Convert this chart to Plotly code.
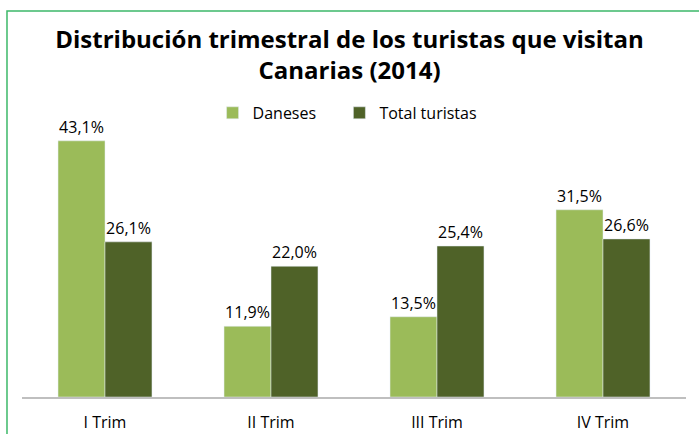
import plotly.graph_objects as go

categories = ["I Trim", "II Trim", "III Trim", "IV Trim"]
daneses = [43.1, 11.9, 13.5, 31.5]
total_turistas = [26.1, 22.0, 25.4, 26.6]

def fmt(v):
    return f"{v:.1f}".replace(".", ",") + "%"

fig = go.Figure()
fig.add_trace(go.Bar(
    name="Daneses", x=categories, y=daneses,
    marker=dict(color="#9BBB59"), legend="legend",
    text=[fmt(v) for v in daneses], textposition="outside",
    textfont=dict(size=16, color="#000000"), cliponaxis=False,
))
fig.add_trace(go.Bar(
    name="Total turistas", x=categories, y=total_turistas,
    marker=dict(color="#4F6228"), legend="legend2",
    text=[fmt(v) for v in total_turistas], textposition="outside",
    textfont=dict(size=16, color="#000000"), cliponaxis=False,
))

leg_common = dict(orientation="h", xanchor="left", y=0.843, yanchor="middle",
                  font=dict(size=16), bgcolor="rgba(0,0,0,0)")

# plot area: x 22..686, y 60..397 (height 337)
fig.update_layout(
    width=699, height=434,
    margin=dict(l=22, r=13, t=60, b=37, autoexpand=False),
    paper_bgcolor="white", plot_bgcolor="white",
    font=dict(family="Open Sans, Liberation Sans, sans-serif", color="#000000"),
    title=dict(
        text="<b>Distribución trimestral de los turistas que visitan<br>Canarias (2014)</b>",
        x=0.5, xanchor="center", y=0.889, yanchor="top",
        font=dict(size=24, color="#000000"),
    ),
    barmode="group", bargap=0.434, bargroupgap=0,
    legend=dict(x=0.287, **leg_common),
    legend2=dict(x=0.478, **leg_common),
    showlegend=True,
    xaxis=dict(showline=True, linecolor="#BFBFBF", linewidth=2, ticks="",
               tickfont=dict(size=16), showgrid=False, automargin=False,
               ticklabelstandoff=10),
    yaxis=dict(range=[0, 56.7], visible=False, showgrid=False, automargin=False),
    shapes=[dict(type="rect", xref="paper", yref="paper",
                 x0=-0.0226, x1=1.2, y0=-0.3, y1=1.1454,
                 line=dict(color="#3DB869", width=1.5), fillcolor="rgba(0,0,0,0)", layer="below")],
)

fig.write_html("out.html", config={"displayModeBar": False},
               post_script="document.body.style.margin='0px';")
